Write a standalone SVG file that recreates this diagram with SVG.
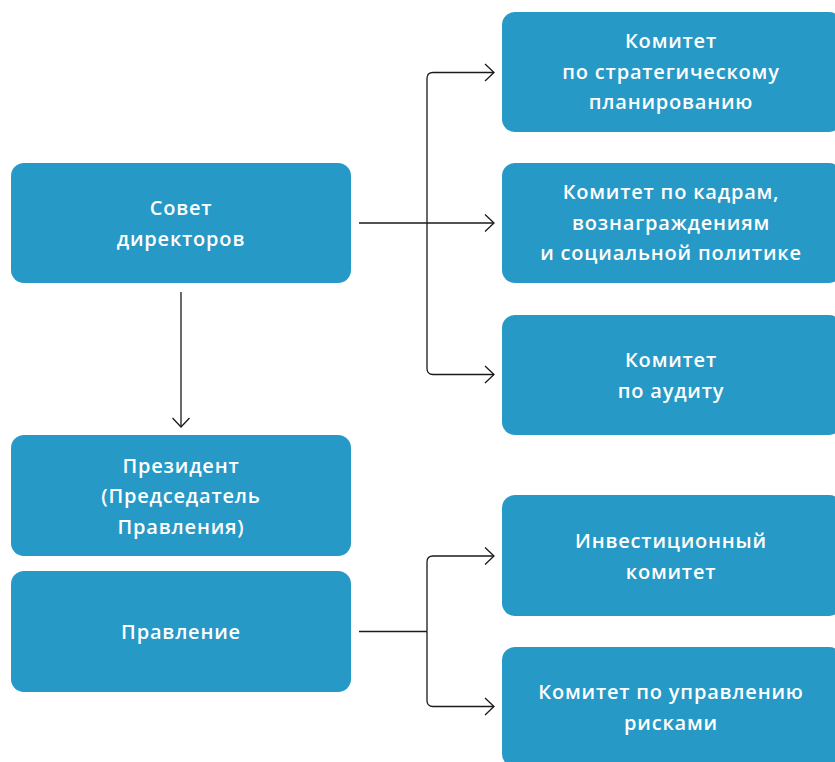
<svg xmlns="http://www.w3.org/2000/svg" width="835" height="762" viewBox="0 0 835 762">
<style>
.box{fill:#2699C6}
.t{fill:#fff;font-family:"Open Sans","DejaVu Sans",sans-serif;font-weight:600;font-size:20px;letter-spacing:0.8px;text-anchor:middle}
.c{fill:none;stroke:#1a1a1a;stroke-width:1.3}
</style>
<defs>
<marker id="ah" viewBox="0 0 12 20" markerWidth="12" markerHeight="20" refX="10.5" refY="10" orient="auto" markerUnits="userSpaceOnUse">
<path d="M1.5,1.5 L10.5,10 L1.5,18.5" fill="none" stroke="#1a1a1a" stroke-width="1.3"/>
</marker>
</defs>
<rect width="835" height="762" fill="#fff"/>
<g id="connectors">
<path class="c" d="M181,292 V427" marker-end="url(#ah)"/>
<path class="c" d="M359,223 H494" marker-end="url(#ah)"/>
<path class="c" d="M427,223 V78.5 Q427,72.5 433,72.5 H494" marker-end="url(#ah)"/>
<path class="c" d="M427,223 V368.5 Q427,374.5 433,374.5 H494" marker-end="url(#ah)"/>
<path class="c" d="M359,631.5 H427"/>
<path class="c" d="M427,631.5 V562 Q427,556 433,556 H494" marker-end="url(#ah)"/>
<path class="c" d="M427,631.5 V700.5 Q427,706.5 433,706.5 H494" marker-end="url(#ah)"/>
</g>
<g id="sovet">
<rect class="box" x="11" y="163" width="340" height="120" rx="13"/>
<text class="t" x="181" y="215">Совет</text>
<text class="t" x="181" y="246">директоров</text>
</g>
<g id="president">
<rect class="box" x="11" y="435" width="340" height="121" rx="13"/>
<text class="t" x="181" y="472.5">Президент</text>
<text class="t" x="181" y="503">(Председатель</text>
<text class="t" x="181" y="533.5">Правления)</text>
</g>
<g id="pravlenie">
<rect class="box" x="11" y="571" width="340" height="121" rx="13"/>
<text class="t" x="181" y="639">Правление</text>
</g>
<g id="strat">
<rect class="box" x="502" y="12" width="340" height="120" rx="13"/>
<text class="t" x="671" y="48">Комитет</text>
<text class="t" x="671" y="78.5">по стратегическому</text>
<text class="t" x="671" y="109">планированию</text>
</g>
<g id="kadry">
<rect class="box" x="502" y="163" width="340" height="120" rx="13"/>
<text class="t" x="671" y="199">Комитет по кадрам,</text>
<text class="t" x="671" y="229.5">вознаграждениям</text>
<text class="t" x="671" y="260">и социальной политике</text>
</g>
<g id="audit">
<rect class="box" x="502" y="315" width="340" height="120" rx="13"/>
<text class="t" x="671" y="367">Комитет</text>
<text class="t" x="671" y="397.5">по аудиту</text>
</g>
<g id="invest">
<rect class="box" x="502" y="495" width="340" height="121" rx="13"/>
<text class="t" x="671" y="548">Инвестиционный</text>
<text class="t" x="671" y="578.5">комитет</text>
</g>
<g id="risk">
<rect class="box" x="502" y="647" width="340" height="120" rx="13"/>
<text class="t" x="671" y="699">Комитет по управлению</text>
<text class="t" x="671" y="729.5">рисками</text>
</g>
</svg>
